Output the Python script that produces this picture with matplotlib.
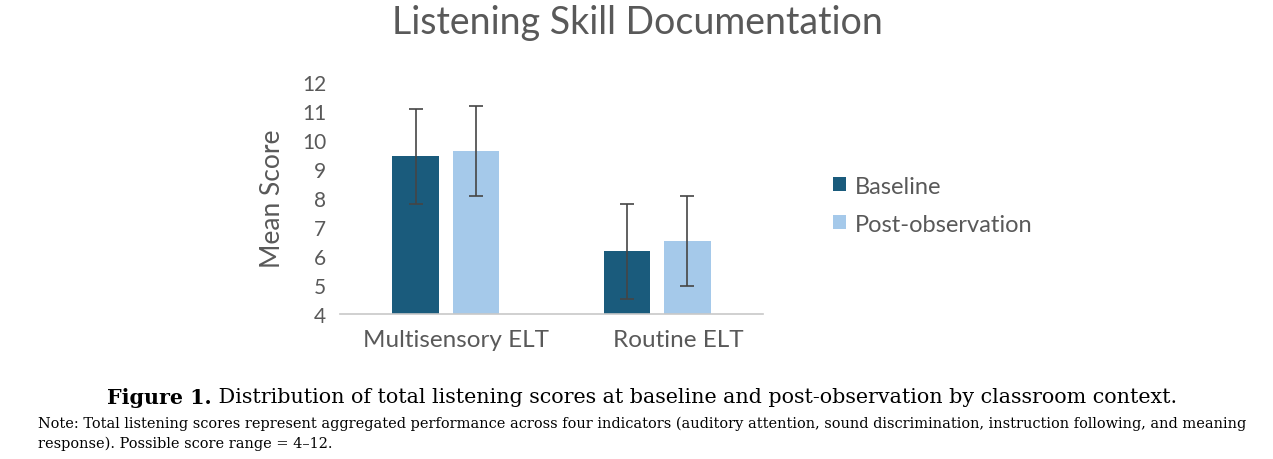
import matplotlib
matplotlib.use("Agg")
import matplotlib.pyplot as plt
import matplotlib.transforms as mtransforms
import numpy as np

categories = ["Multisensory ELT", "Routine ELT"]
series_names = ["Baseline", "Post-observation"]
baseline_means = [9.44, 6.16]
baseline_err = [1.64, 1.63]
post_means = [9.61, 6.51]
post_err = [1.55, 1.56]
yticks = [4, 5, 6, 7, 8, 9, 10, 11, 12]

title = "Listening Skill Documentation"
caption_bold = "Figure 1."
caption_rest = " Distribution of total listening scores at baseline and post-observation by classroom context."
note_lines = ["Note: Total listening scores represent aggregated performance across four indicators (auditory attention, sound discrimination, instruction following, and meaning",
              "response). Possible score range = 4\u201312."]

dark = "#1a5b7c"
light = "#a5c9ea"
gray = "#595959"
hand = ["Lato", "DejaVu Sans"]
serif = ["DejaVu Serif"]

fig = plt.figure(figsize=(12.73, 4.60), dpi=100)
ax = fig.add_axes([340/1273, 1-315/460, 423/1273, (315-83)/460])

x = np.arange(len(categories))
off = 0.143
w = 0.222
ax.bar(x - off, baseline_means, w, color=dark, label=series_names[0], zorder=2)
ax.bar(x + off, post_means, w, color=light, label=series_names[1], zorder=2)
ax.errorbar(x - off, baseline_means, yerr=baseline_err, fmt="none", ecolor="#454545", elinewidth=1.2, capsize=5, capthick=1.2, zorder=3)
ax.errorbar(x + off, post_means, yerr=post_err, fmt="none", ecolor="#454545", elinewidth=1.2, capsize=5, capthick=1.2, zorder=3)

ax.set_xlim(-0.5, 1.5)
ax.set_ylim(4, 12)
ax.set_yticks(yticks)
ax.set_yticklabels([str(t) for t in yticks], family=hand, fontsize=15, color=gray)
ax.set_xticks(x)
ax.set_xticklabels(categories, family=hand, fontsize=17.5, color=gray)
ax.tick_params(axis="both", length=0)
ax.tick_params(axis="y", pad=10)
ax.tick_params(axis="x", pad=11)
for lab, dx in zip(ax.get_xticklabels(), [10, 21]):
    lab.set_transform(lab.get_transform() + mtransforms.ScaledTranslation(dx/100, 0, fig.dpi_scale_trans))
for s in ["top", "right", "left"]:
    ax.spines[s].set_visible(False)
ax.spines["bottom"].set_color("#c8c8c8")
ax.spines["bottom"].set_linewidth(1.2)
ax.set_ylabel("Mean Score", family=hand, fontsize=19, color=gray, labelpad=12)

leg = ax.legend(loc="center left", bbox_to_anchor=(812/1273, 1-206/460), bbox_transform=fig.transFigure,
                frameon=False, prop={"family": hand, "size": 17}, handlelength=0.55, handleheight=0.55,
                handletextpad=0.35, labelspacing=0.72)
for t in leg.get_texts():
    t.set_color(gray)

fig.text(637/1273, 1-23/460, title, ha="center", va="center", family=hand, fontsize=27, color=gray)

# caption
cap_y = 1 - 398/460
t1 = fig.text(0, cap_y, caption_bold, ha="left", va="center", family=serif, fontsize=14.9, weight="bold", color="black")
t2 = fig.text(0, cap_y, caption_rest, ha="left", va="center", family=serif, fontsize=14.9, color="black")
fig.canvas.draw()
r = fig.canvas.get_renderer()
w1 = t1.get_window_extent(r).width
w2 = t2.get_window_extent(r).width
total = w1 + w2
start = 642 - total/2
t1.set_position((start/1273, cap_y))
t2.set_position(((start + w1)/1273, cap_y))

fig.text(38/1273, 1-424/460, note_lines[0], ha="left", va="center", family=serif, fontsize=10.45, color="black")
fig.text(38/1273, 1-444/460, note_lines[1], ha="left", va="center", family=serif, fontsize=10.45, color="black")

fig.savefig("out.png", dpi=100, facecolor="white")
